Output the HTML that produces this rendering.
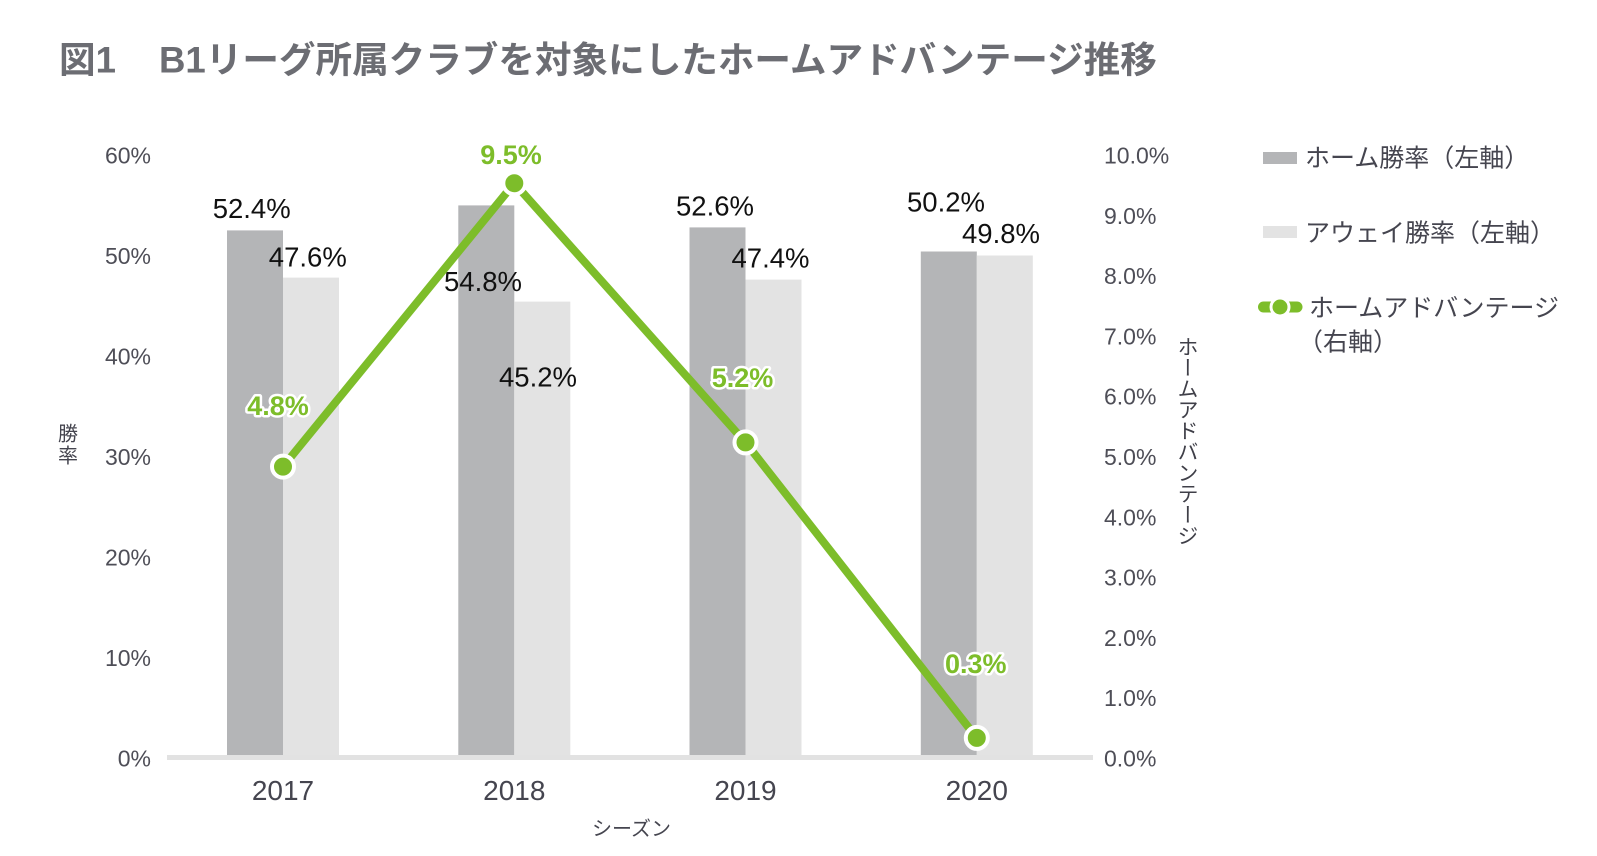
<!DOCTYPE html>
<html lang="ja">
<head>
<meta charset="utf-8">
<style>
  html,body{margin:0;padding:0;background:#fff;}
  body{width:1597px;height:856px;position:relative;overflow:hidden;
       font-family:"Liberation Sans","Noto Sans CJK JP",sans-serif;}
  svg{position:absolute;left:0;top:0;}
  .vt{position:absolute;writing-mode:vertical-rl;text-orientation:upright;
      font-family:"Noto Sans CJK JP","Liberation Sans",sans-serif;color:#3f3f48;}
</style>
</head>
<body>
<svg width="1597" height="856" viewBox="0 0 1597 856" xmlns="http://www.w3.org/2000/svg"
     font-family="'Liberation Sans','Noto Sans CJK JP',sans-serif">
  <!-- Title -->
  <text x="59" y="72.5" font-size="36.6" font-weight="bold" fill="#6c6d73">図1</text>
  <text x="159" y="72.5" font-size="36.6" font-weight="bold" fill="#6c6d73">B1リーグ所属クラブを対象にしたホームアドバンテージ推移</text>

  <!-- Left tick labels -->
  <g font-size="23" fill="#4e4e57" text-anchor="end">
    <text x="151" y="766.5">0%</text>
    <text x="151" y="666">10%</text>
    <text x="151" y="565.5">20%</text>
    <text x="151" y="465">30%</text>
    <text x="151" y="364.5">40%</text>
    <text x="151" y="264">50%</text>
    <text x="151" y="163.5">60%</text>
  </g>
  <!-- Right tick labels -->
  <g font-size="23" fill="#4e4e57" text-anchor="start">
    <text x="1104" y="766.5">0.0%</text>
    <text x="1104" y="706.2">1.0%</text>
    <text x="1104" y="645.9">2.0%</text>
    <text x="1104" y="585.6">3.0%</text>
    <text x="1104" y="525.3">4.0%</text>
    <text x="1104" y="465">5.0%</text>
    <text x="1104" y="404.7">6.0%</text>
    <text x="1104" y="344.4">7.0%</text>
    <text x="1104" y="284.1">8.0%</text>
    <text x="1104" y="223.8">9.0%</text>
    <text x="1104" y="163.5">10.0%</text>
  </g>

  <!-- Bars -->
  <g>
    <rect x="227" y="230.4" width="56" height="524.6" fill="#b4b5b7"/>
    <rect x="283" y="277.6" width="56" height="477.4" fill="#e3e3e3"/>

    <rect x="458.3" y="205.4" width="56" height="549.6" fill="#b4b5b7"/>
    <rect x="514.3" y="301.6" width="56" height="453.4" fill="#e3e3e3"/>

    <rect x="689.5" y="227.4" width="56" height="527.6" fill="#b4b5b7"/>
    <rect x="745.5" y="279.6" width="56" height="475.4" fill="#e3e3e3"/>

    <rect x="920.8" y="251.5" width="56" height="503.5" fill="#b4b5b7"/>
    <rect x="976.8" y="255.5" width="56" height="499.5" fill="#e3e3e3"/>
  </g>

  <!-- X axis line -->
  <rect x="167" y="755" width="926" height="5" fill="#e2e2e2"/>

  <!-- Black data labels -->
  <g font-size="27.5" fill="#111" text-anchor="middle">
    <text x="251.7" y="218">52.4%</text>
    <text x="307.8" y="266.5">47.6%</text>
    <text x="483" y="291">54.8%</text>
    <text x="538" y="386.5">45.2%</text>
    <text x="715" y="215.5">52.6%</text>
    <text x="770.5" y="267.5">47.4%</text>
    <text x="946" y="211.5">50.2%</text>
    <text x="1001" y="243">49.8%</text>
  </g>

  <!-- Line series -->
  <polyline points="283,466.6 514.3,183.2 745.5,442.4 976.8,737.9" fill="none"
            stroke="#7dbd2a" stroke-width="8" stroke-linejoin="miter"/>
  <g fill="#7dbd2a" stroke="#fff" stroke-width="4">
    <circle cx="283" cy="466.6" r="11"/>
    <circle cx="514.3" cy="183.2" r="11"/>
    <circle cx="745.5" cy="442.4" r="11"/>
    <circle cx="976.8" cy="737.9" r="11"/>
  </g>

  <!-- Green labels -->
  <g font-size="27" font-weight="bold" fill="#7dbd2a" text-anchor="middle"
     stroke="#fff" stroke-width="5" stroke-linejoin="round" style="paint-order:stroke">
    <text x="278" y="415">4.8%</text>
    <text x="511" y="164">9.5%</text>
    <text x="742.5" y="387">5.2%</text>
    <text x="975.8" y="673">0.3%</text>
  </g>

  <!-- X labels -->
  <g font-size="28" fill="#45454f" text-anchor="middle">
    <text x="283" y="800">2017</text>
    <text x="514.3" y="800">2018</text>
    <text x="745.5" y="800">2019</text>
    <text x="976.8" y="800">2020</text>
  </g>
  <text x="631.5" y="835.5" font-size="20" fill="#45454f" text-anchor="middle">シーズン</text>

  <!-- Left axis title -->
  <g font-size="20" fill="#45454f" text-anchor="middle">
    <text x="68" y="440.5">勝</text>
    <text x="68" y="462.5">率</text>
  </g>

  <!-- Legend -->
  <rect x="1263" y="152" width="34" height="12" fill="#b4b5b7"/>
  <text x="1305" y="166.5" font-size="25" fill="#45454f">ホーム勝率（左軸）</text>
  <rect x="1263" y="226" width="34" height="12" fill="#e3e3e3"/>
  <text x="1305" y="241.5" font-size="25" fill="#45454f">アウェイ勝率（左軸）</text>

  <line x1="1263.5" y1="307" x2="1297" y2="307" stroke="#7dbd2a" stroke-width="11" stroke-linecap="round"/>
  <circle cx="1280" cy="307" r="9" fill="#7dbd2a" stroke="#fff" stroke-width="3"/>
  <text x="1309" y="316.5" font-size="25" fill="#45454f">ホームアドバンテージ</text>
  <text x="1298" y="350.5" font-size="25" fill="#45454f">（右軸）</text>
</svg>

<div class="vt" style="left:1176px;top:336px;font-size:21px;line-height:24px;width:24px;">ホームアドバンテージ</div>
</body>
</html>
